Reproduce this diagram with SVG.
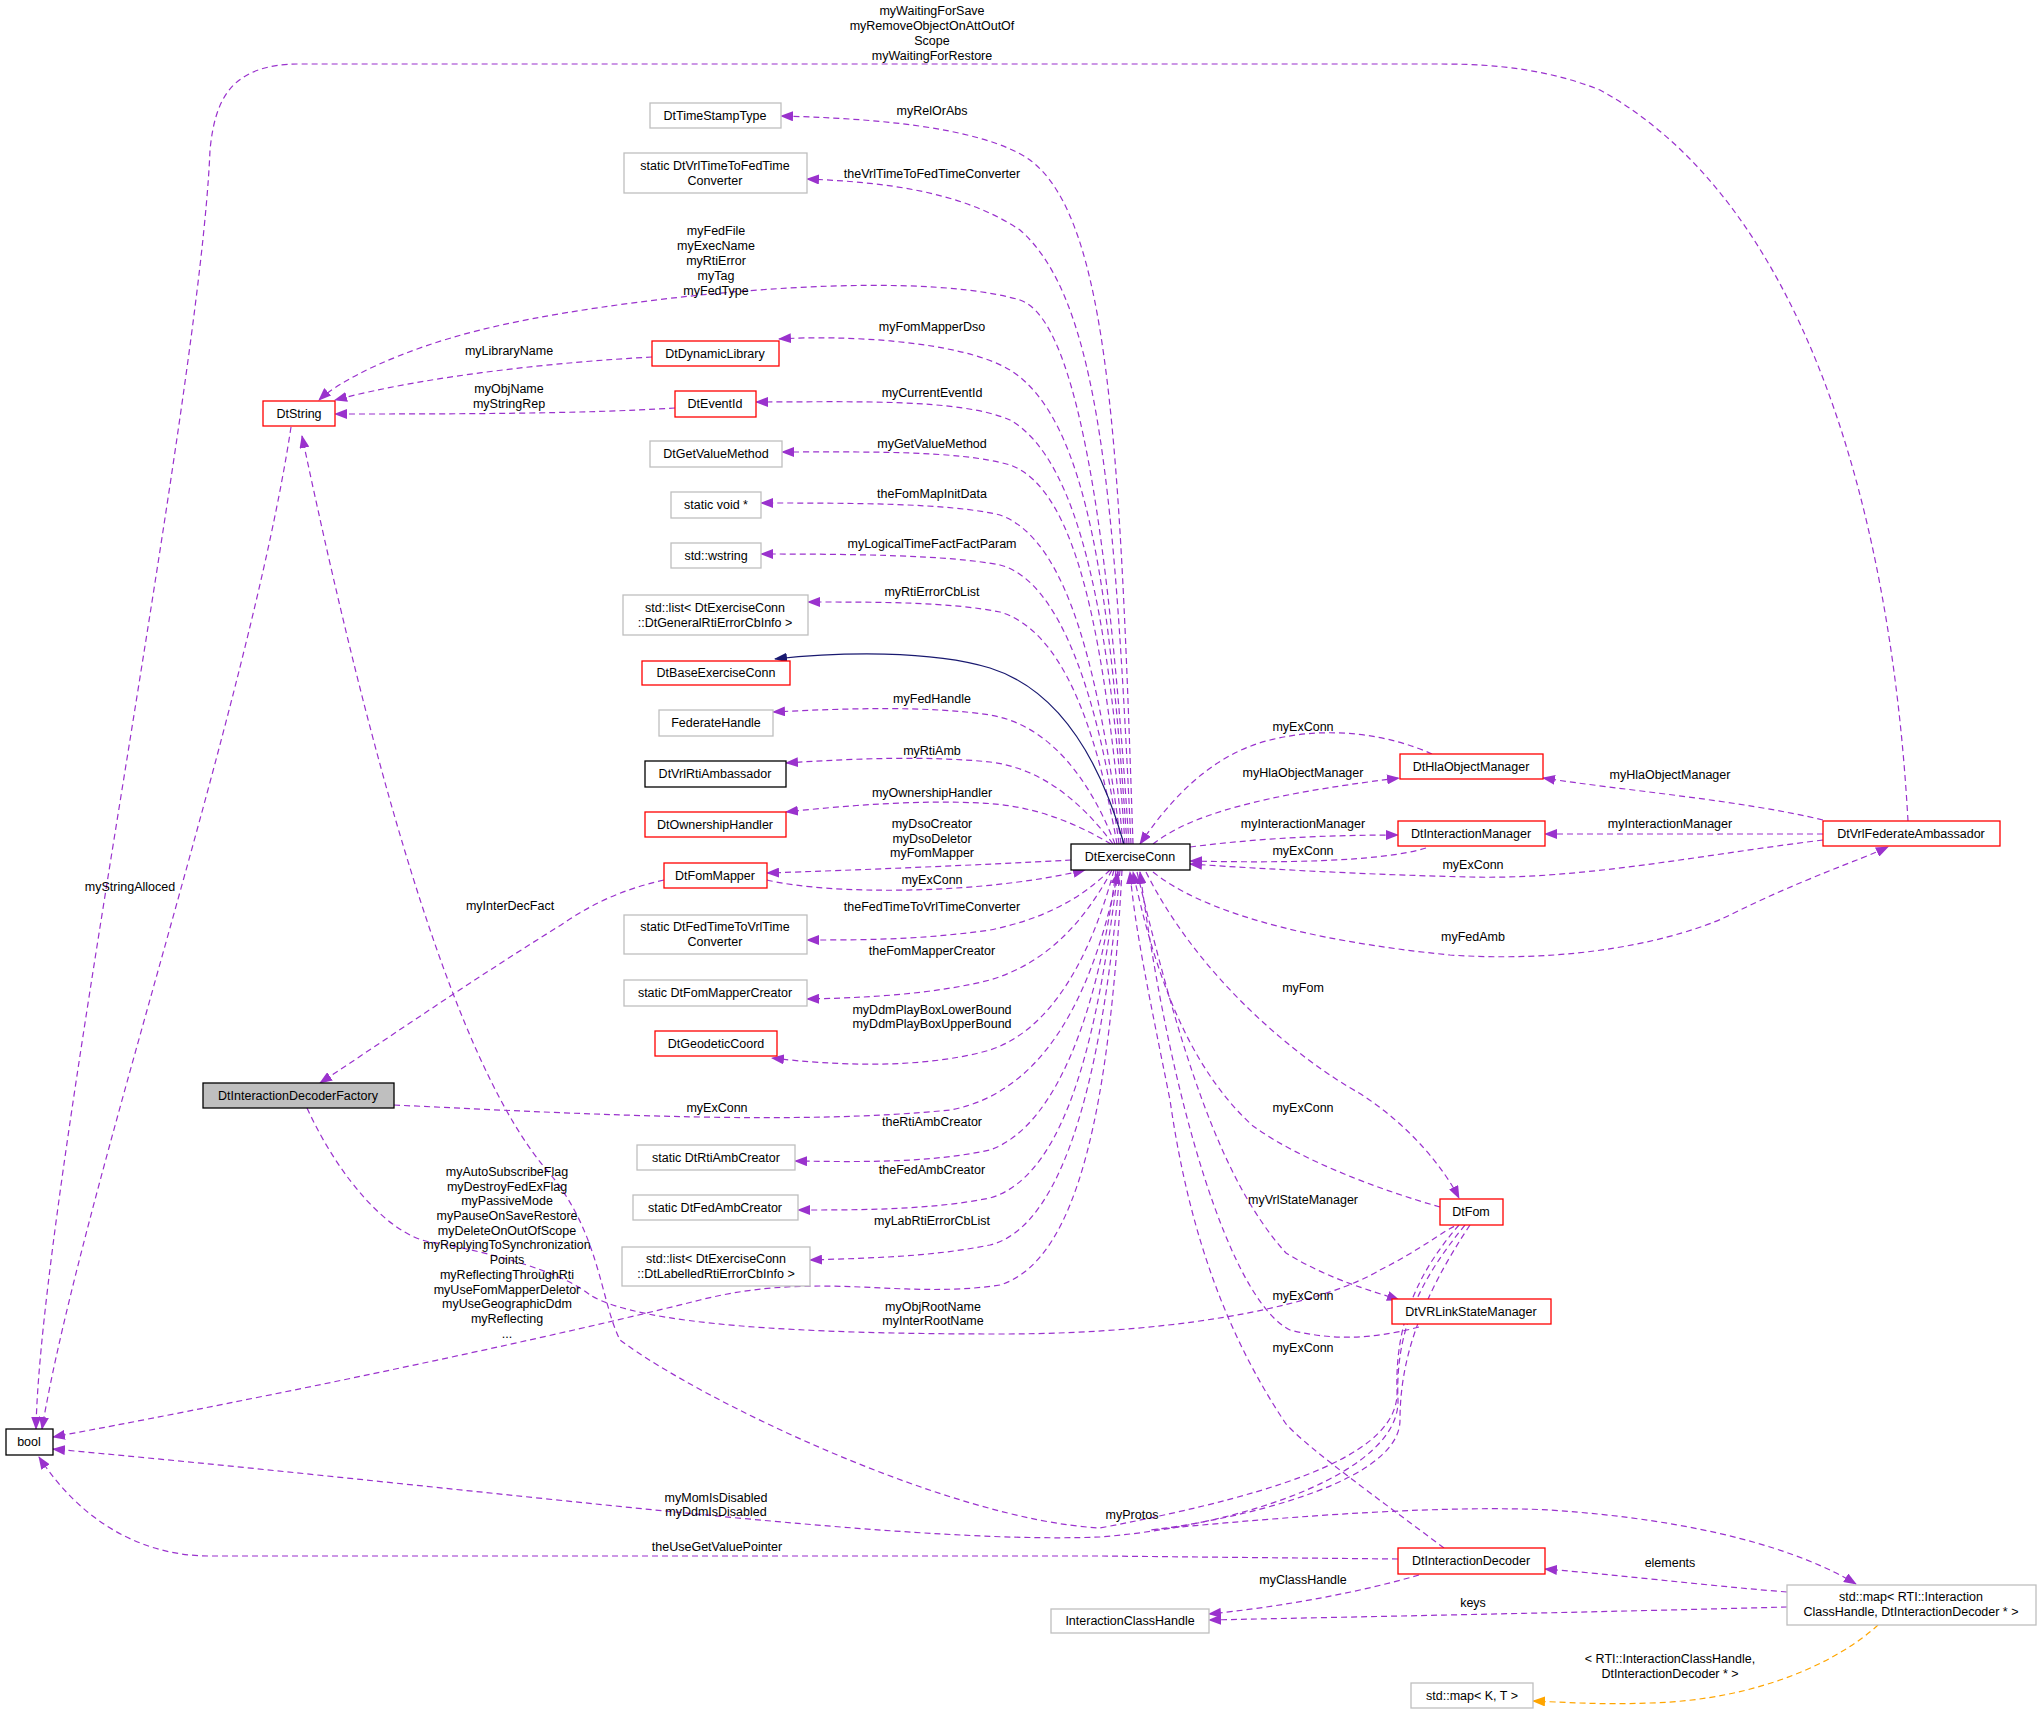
<svg xmlns="http://www.w3.org/2000/svg" width="2043" height="1715" viewBox="0 0 2043 1715">
<style>
text{font-family:"Liberation Sans",Arial,sans-serif;font-size:12.5px;fill:#000;text-anchor:middle}
.n rect{fill:#fff;stroke-width:1.3}
.r rect{stroke:#ff0000}.g rect{stroke:#bfbfbf}.k rect{stroke:#000}
.e path{fill:none;stroke:#9a32cd;stroke-width:1.2;stroke-dasharray:6,4;marker-end:url(#a)}
.e path.na{marker-end:none}
.e path.inh{stroke:#191970;stroke-dasharray:none;marker-end:url(#b)}
.e path.tpl{stroke:#ffa500;marker-end:url(#c)}
</style>
<defs>
<marker id="a" markerWidth="13" markerHeight="10" refX="12" refY="5" orient="auto" markerUnits="userSpaceOnUse"><path d="M0,0L13,5L0,10z" fill="#9a32cd"/></marker>
<marker id="b" markerWidth="13" markerHeight="10" refX="12" refY="5" orient="auto" markerUnits="userSpaceOnUse"><path d="M0,0L13,5L0,10z" fill="#191970"/></marker>
<marker id="c" markerWidth="13" markerHeight="10" refX="12" refY="5" orient="auto" markerUnits="userSpaceOnUse"><path d="M0,0L13,5L0,10z" fill="#ffa500"/></marker>
</defs>
<rect width="2043" height="1715" fill="#fff"/>
<g id="edges" class="e">
<path d="M1133,844C1120,450 1110,220 1030,160C980,125 860,118 781,116"/>
<path d="M1131,844C1115,500 1100,300 1020,230C960,190 880,182 807,179"/>
<path d="M1129,844C1110,550 1080,320 1020,300C900,265 600,300 480,330C400,350 340,380 319,400"/>
<path d="M1127,844C1110,600 1090,420 1010,370C960,340 840,335 779,339"/>
<path d="M1125,844C1110,620 1080,460 1010,420C960,398 850,402 756,402"/>
<path d="M1123,844C1105,650 1080,490 1010,465C960,450 860,452 782,452"/>
<path d="M1121,844C1100,680 1070,540 1000,515C950,503 850,503 761,503"/>
<path d="M1119,844C1100,700 1060,580 1000,565C950,555 850,554 761,554"/>
<path d="M1117,844C1095,720 1060,630 1000,612C950,602 880,602 808,602"/>
<path class="inh" d="M1124,844C1100,760 1060,690 990,668C930,650 840,652 775,659"/>
<path d="M1115,844C1090,780 1050,725 990,715C930,706 850,708 773,712"/>
<path d="M1113,844C1080,800 1040,768 990,762C930,756 860,758 786,763"/>
<path d="M1111,844C1070,820 1030,805 980,803C920,800 850,805 786,812"/>
<path d="M1071,860C980,865 860,870 767,873"/>
<path d="M767,880C830,895 980,895 1085,870"/>
<path d="M1110,870C1080,900 1040,920 990,930C920,940 860,940 807,940"/>
<path d="M1112,870C1080,930 1040,965 990,980C930,995 860,998 807,999"/>
<path d="M1114,870C1090,960 1050,1030 990,1050C920,1070 830,1065 772,1058"/>
<path d="M394,1105C600,1115 800,1125 950,1110C1060,1090 1100,960 1118,872"/>
<path d="M1116,870C1100,1000 1060,1125 990,1150C930,1163 860,1162 795,1161"/>
<path d="M1118,870C1100,1020 1070,1175 990,1198C930,1210 860,1210 798,1210"/>
<path d="M1120,870C1105,1050 1070,1225 990,1245C930,1257 870,1258 810,1260"/>
<path d="M1122,870C1110,1100 1080,1260 1000,1285C900,1300 820,1270 700,1300C500,1350 200,1410 53,1437"/>
<path d="M664,880C620,890 590,905 561,925C480,975 400,1030 320,1083"/>
<path d="M1153,844C1190,815 1260,795 1399,778"/>
<path d="M1432,754C1390,735 1330,725 1270,740C1210,755 1170,800 1140,844"/>
<path d="M1190,847C1260,838 1330,835 1398,835"/>
<path d="M1426,848C1380,862 1280,863 1190,861"/>
<path d="M1823,840C1700,855 1580,880 1470,877C1380,875 1280,870 1190,864"/>
<path d="M1823,820C1740,800 1620,790 1543,778"/>
<path d="M1823,834L1545,834"/>
<path d="M1153,872C1200,910 1300,940 1450,955C1600,965 1700,930 1730,915C1800,880 1860,860 1888,847"/>
<path d="M1908,821C1890,500 1800,200 1600,90C1540,66 1480,64 1440,64L300,64C230,64 215,100 210,150C200,400 40,1200 36,1429"/>
<path d="M291,427C250,700 80,1200 42,1429"/>
<path d="M652,357C560,362 430,375 335,400"/>
<path d="M675,408C580,414 450,414 335,414"/>
<path d="M1146,872C1200,980 1300,1060 1359,1093C1410,1125 1445,1170 1459,1198"/>
<path d="M1440,1207C1380,1190 1300,1160 1253,1126C1180,1060 1150,950 1133,872"/>
<path d="M1137,872C1180,1050 1220,1180 1286,1253C1330,1280 1370,1290 1399,1300"/>
<path d="M1419,1327C1370,1340 1330,1340 1290,1330C1230,1300 1170,1100 1140,872"/>
<path d="M1444,1548C1380,1500 1310,1450 1286,1424C1230,1340 1190,1240 1170,1100C1150,1000 1135,930 1130,872"/>
<path d="M1398,1559L1100,1556L210,1556C140,1556 80,1520 39,1457"/>
<path d="M1419,1575C1350,1595 1270,1608 1209,1614"/>
<path d="M1787,1607C1600,1612 1400,1616 1209,1620"/>
<path d="M1787,1592C1700,1585 1620,1575 1545,1569"/>
<path class="tpl" d="M1878,1625C1840,1660 1760,1700 1650,1703C1600,1705 1560,1702 1533,1701"/>
<path d="M1459,1225C1420,1270 1395,1320 1397,1390C1400,1450 1300,1490 1100,1528C950,1520 700,1400 620,1340C600,1300 600,1230 545,1168C480,1090 400,900 302,436"/>
<path d="M1465,1225C1420,1280 1395,1330 1398,1400C1400,1470 1250,1525 1100,1537C900,1545 500,1490 53,1449"/>
<path d="M1470,1225C1420,1300 1400,1360 1400,1420C1400,1490 1200,1525 1150,1530C1300,1515 1450,1505 1550,1510C1700,1520 1800,1550 1856,1584"/>
<path class="na" d="M307,1108C340,1180 390,1235 430,1242C480,1250 560,1270 590,1295C640,1325 800,1334 1000,1334C1200,1334 1330,1300 1380,1270C1420,1250 1445,1230 1455,1226"/>
</g>
<g id="labels">
<text x="932" y="15">myWaitingForSave</text><text x="932" y="30">myRemoveObjectOnAttOutOf</text><text x="932" y="45">Scope</text><text x="932" y="60">myWaitingForRestore</text>
<text x="932" y="115">myRelOrAbs</text>
<text x="932" y="178">theVrlTimeToFedTimeConverter</text>
<text x="716" y="235">myFedFile</text><text x="716" y="250">myExecName</text><text x="716" y="265">myRtiError</text><text x="716" y="280">myTag</text><text x="716" y="295">myFedType</text>
<text x="932" y="331">myFomMapperDso</text>
<text x="509" y="355">myLibraryName</text>
<text x="509" y="393">myObjName</text><text x="509" y="408">myStringRep</text>
<text x="932" y="397">myCurrentEventId</text>
<text x="932" y="448">myGetValueMethod</text>
<text x="932" y="498">theFomMapInitData</text>
<text x="932" y="548">myLogicalTimeFactFactParam</text>
<text x="932" y="596">myRtiErrorCbList</text>
<text x="932" y="703">myFedHandle</text>
<text x="932" y="755">myRtiAmb</text>
<text x="932" y="797">myOwnershipHandler</text>
<text x="932" y="828">myDsoCreator</text><text x="932" y="843">myDsoDeletor</text><text x="932" y="857">myFomMapper</text>
<text x="932" y="884">myExConn</text>
<text x="130" y="891">myStringAlloced</text>
<text x="510" y="910">myInterDecFact</text>
<text x="932" y="911">theFedTimeToVrlTimeConverter</text>
<text x="932" y="955">theFomMapperCreator</text>
<text x="932" y="1014">myDdmPlayBoxLowerBound</text><text x="932" y="1028">myDdmPlayBoxUpperBound</text>
<text x="717" y="1112">myExConn</text>
<text x="932" y="1126">theRtiAmbCreator</text>
<text x="932" y="1174">theFedAmbCreator</text>
<text x="932" y="1225">myLabRtiErrorCbList</text>
<text x="507" y="1176">myAutoSubscribeFlag</text><text x="507" y="1191">myDestroyFedExFlag</text><text x="507" y="1205">myPassiveMode</text><text x="507" y="1220">myPauseOnSaveRestore</text><text x="507" y="1235">myDeleteOnOutOfScope</text><text x="507" y="1249">myReplyingToSynchronization</text><text x="507" y="1264">Points</text><text x="507" y="1279">myReflectingThroughRti</text><text x="507" y="1294">myUseFomMapperDeletor</text><text x="507" y="1308">myUseGeographicDdm</text><text x="507" y="1323">myReflecting</text><text x="507" y="1338">...</text>
<text x="933" y="1311">myObjRootName</text><text x="933" y="1325">myInterRootName</text>
<text x="716" y="1502">myMomIsDisabled</text><text x="716" y="1516">myDdmIsDisabled</text>
<text x="717" y="1551">theUseGetValuePointer</text>
<text x="1132" y="1519">myProtos</text>
<text x="1303" y="731">myExConn</text>
<text x="1303" y="777">myHlaObjectManager</text>
<text x="1303" y="828">myInteractionManager</text>
<text x="1303" y="855">myExConn</text>
<text x="1473" y="869">myExConn</text>
<text x="1670" y="779">myHlaObjectManager</text>
<text x="1670" y="828">myInteractionManager</text>
<text x="1473" y="941">myFedAmb</text>
<text x="1303" y="992">myFom</text>
<text x="1303" y="1112">myExConn</text>
<text x="1303" y="1204">myVrlStateManager</text>
<text x="1303" y="1300">myExConn</text>
<text x="1303" y="1352">myExConn</text>
<text x="1303" y="1584">myClassHandle</text>
<text x="1473" y="1607">keys</text>
<text x="1670" y="1567">elements</text>
<text x="1670" y="1663">&lt; RTI::InteractionClassHandle,</text><text x="1670" y="1678">DtInteractionDecoder * &gt;</text>
</g>
<g id="DtExerciseConn" class="n k"><rect x="1071" y="844" width="119" height="26"/><text x="1130" y="861">DtExerciseConn</text></g>
<g id="DtTimeStampType" class="n g"><rect x="650" y="103" width="131" height="25"/><text x="715" y="120">DtTimeStampType</text></g>
<g id="VrlToFed" class="n g"><rect x="624" y="153" width="183" height="40"/><text x="715" y="170">static DtVrlTimeToFedTime</text><text x="715" y="185">Converter</text></g>
<g id="DtDynamicLibrary" class="n r"><rect x="652" y="341" width="127" height="25"/><text x="715" y="358">DtDynamicLibrary</text></g>
<g id="DtEventId" class="n r"><rect x="675" y="391" width="81" height="26"/><text x="715" y="408">DtEventId</text></g>
<g id="DtString" class="n r"><rect x="263" y="401" width="72" height="25"/><text x="299" y="418">DtString</text></g>
<g id="DtGetValueMethod" class="n g"><rect x="650" y="441" width="132" height="26"/><text x="716" y="458">DtGetValueMethod</text></g>
<g id="staticvoid" class="n g"><rect x="671" y="492" width="90" height="26"/><text x="716" y="509">static void *</text></g>
<g id="wstring" class="n g"><rect x="671" y="543" width="90" height="25"/><text x="716" y="560">std::wstring</text></g>
<g id="GenList" class="n g"><rect x="623" y="595" width="185" height="40"/><text x="715" y="612">std::list&lt; DtExerciseConn</text><text x="715" y="627">::DtGeneralRtiErrorCbInfo &gt;</text></g>
<g id="DtBaseExerciseConn" class="n r"><rect x="642" y="661" width="148" height="24"/><text x="716" y="677">DtBaseExerciseConn</text></g>
<g id="FederateHandle" class="n g"><rect x="659" y="710" width="114" height="26"/><text x="716" y="727">FederateHandle</text></g>
<g id="DtVrlRtiAmbassador" class="n k"><rect x="645" y="761" width="141" height="26"/><text x="715" y="778">DtVrlRtiAmbassador</text></g>
<g id="DtOwnershipHandler" class="n r"><rect x="645" y="812" width="141" height="25"/><text x="715" y="829">DtOwnershipHandler</text></g>
<g id="DtFomMapper" class="n r"><rect x="664" y="863" width="103" height="25"/><text x="715" y="880">DtFomMapper</text></g>
<g id="FedToVrl" class="n g"><rect x="624" y="915" width="183" height="39"/><text x="715" y="931">static DtFedTimeToVrlTime</text><text x="715" y="946">Converter</text></g>
<g id="FomMapperCreator" class="n g"><rect x="624" y="980" width="183" height="26"/><text x="715" y="997">static DtFomMapperCreator</text></g>
<g id="DtGeodeticCoord" class="n r"><rect x="655" y="1031" width="122" height="25"/><text x="716" y="1048">DtGeodeticCoord</text></g>
<g id="DtInteractionDecoderFactory" class="n k"><rect x="203" y="1083" width="191" height="25" style="fill:#bfbfbf"/><text x="298" y="1100">DtInteractionDecoderFactory</text></g>
<g id="RtiAmbCreator" class="n g"><rect x="637" y="1145" width="158" height="25"/><text x="716" y="1162">static DtRtiAmbCreator</text></g>
<g id="FedAmbCreator" class="n g"><rect x="633" y="1195" width="165" height="25"/><text x="715" y="1212">static DtFedAmbCreator</text></g>
<g id="LabList" class="n g"><rect x="622" y="1247" width="188" height="39"/><text x="716" y="1263">std::list&lt; DtExerciseConn</text><text x="716" y="1278">::DtLabelledRtiErrorCbInfo &gt;</text></g>
<g id="bool" class="n k"><rect x="6" y="1429" width="47" height="26"/><text x="29" y="1446">bool</text></g>
<g id="DtHlaObjectManager" class="n r"><rect x="1400" y="754" width="143" height="25"/><text x="1471" y="771">DtHlaObjectManager</text></g>
<g id="DtInteractionManager" class="n r"><rect x="1398" y="821" width="147" height="25"/><text x="1471" y="838">DtInteractionManager</text></g>
<g id="DtVrlFederateAmbassador" class="n r"><rect x="1823" y="821" width="177" height="25"/><text x="1911" y="838">DtVrlFederateAmbassador</text></g>
<g id="DtFom" class="n r"><rect x="1440" y="1199" width="63" height="26"/><text x="1471" y="1216">DtFom</text></g>
<g id="DtVRLinkStateManager" class="n r"><rect x="1392" y="1299" width="159" height="25"/><text x="1471" y="1316">DtVRLinkStateManager</text></g>
<g id="DtInteractionDecoder" class="n r"><rect x="1398" y="1548" width="147" height="26"/><text x="1471" y="1565">DtInteractionDecoder</text></g>
<g id="stdmap" class="n g"><rect x="1787" y="1585" width="249" height="40"/><text x="1911" y="1601">std::map&lt; RTI::Interaction</text><text x="1911" y="1616">ClassHandle, DtInteractionDecoder * &gt;</text></g>
<g id="InteractionClassHandle" class="n g"><rect x="1051" y="1609" width="158" height="24"/><text x="1130" y="1625">InteractionClassHandle</text></g>
<g id="stdmapKT" class="n g"><rect x="1411" y="1683" width="122" height="25"/><text x="1472" y="1700">std::map&lt; K, T &gt;</text></g>
</svg>
